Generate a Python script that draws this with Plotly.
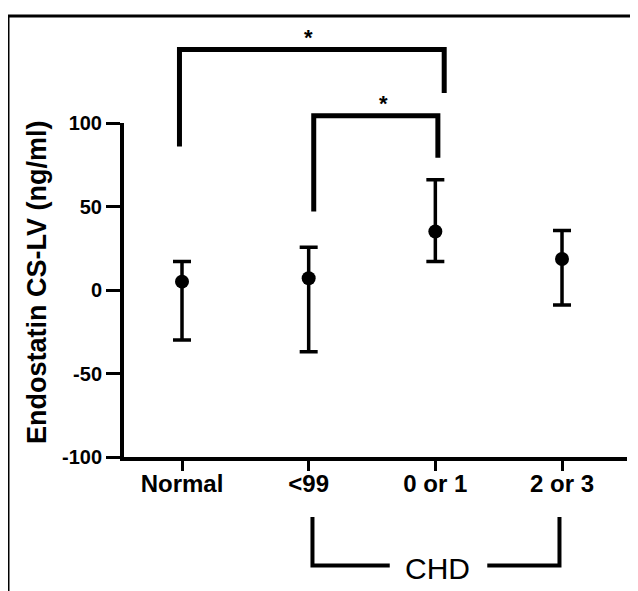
import plotly.graph_objects as go

# ---- data ----
categories = ["Normal", "<99", "0 or 1", "2 or 3"]
means = [5.0, 7.0, 35.0, 18.6]
upper = [17.0, 25.6, 66.0, 35.6]
lower = [-30.0, -37.0, 17.0, -9.0]
y_ticks = [-100, -50, 0, 50, 100]

# significance brackets: (x_left, x_right, y_top, y_left_bottom, y_right_bottom)
sig_brackets = [(-0.02, 2.07, 144.0, 86.0, 118.0), (1.04, 2.02, 104.4, 47.0, 79.2)]
sig_stars = [(1.0, 151.0), (1.59, 111.5)]
# CHD group bracket
chd = dict(x0=1.03, x1=2.98, ytop=-136.0, ybot=-165.0, g0=1.64, g1=2.41, lx=2.02, ly=-167.0)

# ---- layout geometry (page has an 8px body margin) ----
OFF = 8
W, H = 630, 583
L, T = 124 - OFF, 123 - OFF
R = W - (627 - OFF)
B = H - (457 - OFF)
PW, PH = W - L - R, H - T - B
XMIN = -(182 - 124) / 126.67
XMAX = XMIN + PW / 126.67
YMIN, YMAX = -100, 100


def xp(x):
    return (x - XMIN) / (XMAX - XMIN)


def yp(y):
    return (y - YMIN) / (YMAX - YMIN)


def pxx(px):
    return (px - OFF - L) / PW


def pxy(py):
    return (H - B - (py - OFF)) / PH


xs = list(range(len(categories)))
err_plus = [u - m for u, m in zip(upper, means)]
err_minus = [m - l for m, l in zip(means, lower)]

fig = go.Figure()
fig.add_trace(go.Scatter(
    x=xs, y=means, mode="markers",
    marker=dict(size=14, color="black"),
    error_y=dict(type="data", symmetric=False, array=err_plus, arrayminus=err_minus,
                 color="black", thickness=3.5, width=9),
    showlegend=False, hoverinfo="skip",
))

FONT = "Liberation Sans, Arial, sans-serif"

shapes = []
for (xl, xr, yt, ylb, yrb) in sig_brackets:
    path = f"M {xp(xl)},{yp(ylb)} L {xp(xl)},{yp(yt)} L {xp(xr)},{yp(yt)} L {xp(xr)},{yp(yrb)}"
    shapes.append(dict(type="path", xref="paper", yref="paper", path=path,
                       line=dict(color="black", width=5)))

shapes.append(dict(type="path", xref="paper", yref="paper",
                   path=f"M {xp(chd['x0'])},{yp(chd['ytop'])} L {xp(chd['x0'])},{yp(chd['ybot'])} L {xp(chd['g0'])},{yp(chd['ybot'])}",
                   line=dict(color="black", width=4)))
shapes.append(dict(type="path", xref="paper", yref="paper",
                   path=f"M {xp(chd['g1'])},{yp(chd['ybot'])} L {xp(chd['x1'])},{yp(chd['ybot'])} L {xp(chd['x1'])},{yp(chd['ytop'])}",
                   line=dict(color="black", width=4)))

# outer frame (top and left edges)
shapes.append(dict(type="line", xref="paper", yref="paper",
                   x0=pxx(8), x1=pxx(645), y0=pxy(16), y1=pxy(16),
                   line=dict(color="black", width=3)))
shapes.append(dict(type="line", xref="paper", yref="paper",
                   x0=pxx(8), x1=pxx(8), y0=pxy(16), y1=pxy(600),
                   line=dict(color="black", width=3)))

annotations = []
for (sx, sy) in sig_stars:
    annotations.append(dict(x=xp(sx), y=yp(sy), xref="paper", yref="paper", text="*",
                            showarrow=False, xanchor="center", yanchor="middle",
                            font=dict(family=FONT, size=22, color="black", weight="bold")))
annotations.append(dict(x=xp(chd["lx"]), y=yp(chd["ly"]), xref="paper", yref="paper", text="CHD",
                        showarrow=False, xanchor="center", yanchor="middle",
                        font=dict(family=FONT, size=30, color="black")))
annotations.append(dict(x=pxx(37), y=pxy(283), xref="paper", yref="paper",
                        text="Endostatin CS-LV (ng/ml)", textangle=-90,
                        showarrow=False, xanchor="center", yanchor="middle",
                        font=dict(family=FONT, size=27, color="black", weight="bold")))

fig.update_layout(
    width=W, height=H,
    margin=dict(l=L, r=R, t=T, b=B),
    plot_bgcolor="white", paper_bgcolor="white",
    shapes=shapes, annotations=annotations,
    xaxis=dict(range=[XMIN, XMAX], tickvals=xs, ticktext=categories,
               showgrid=False, zeroline=False, showline=True, linewidth=4, linecolor="black",
               ticks="outside", ticklen=10, tickwidth=3, tickcolor="black",
               ticklabelstandoff=-8,
               tickfont=dict(family=FONT, size=24, color="black", weight="bold")),
    yaxis=dict(range=[YMIN, YMAX], tickvals=y_ticks, ticktext=[str(v) for v in y_ticks],
               showgrid=False, zeroline=False, showline=True, linewidth=4, linecolor="black",
               ticks="outside", ticklen=14, tickwidth=3, tickcolor="black",
               tickfont=dict(family=FONT, size=20, color="black", weight="bold")),
)

fig.write_html("out.html")
